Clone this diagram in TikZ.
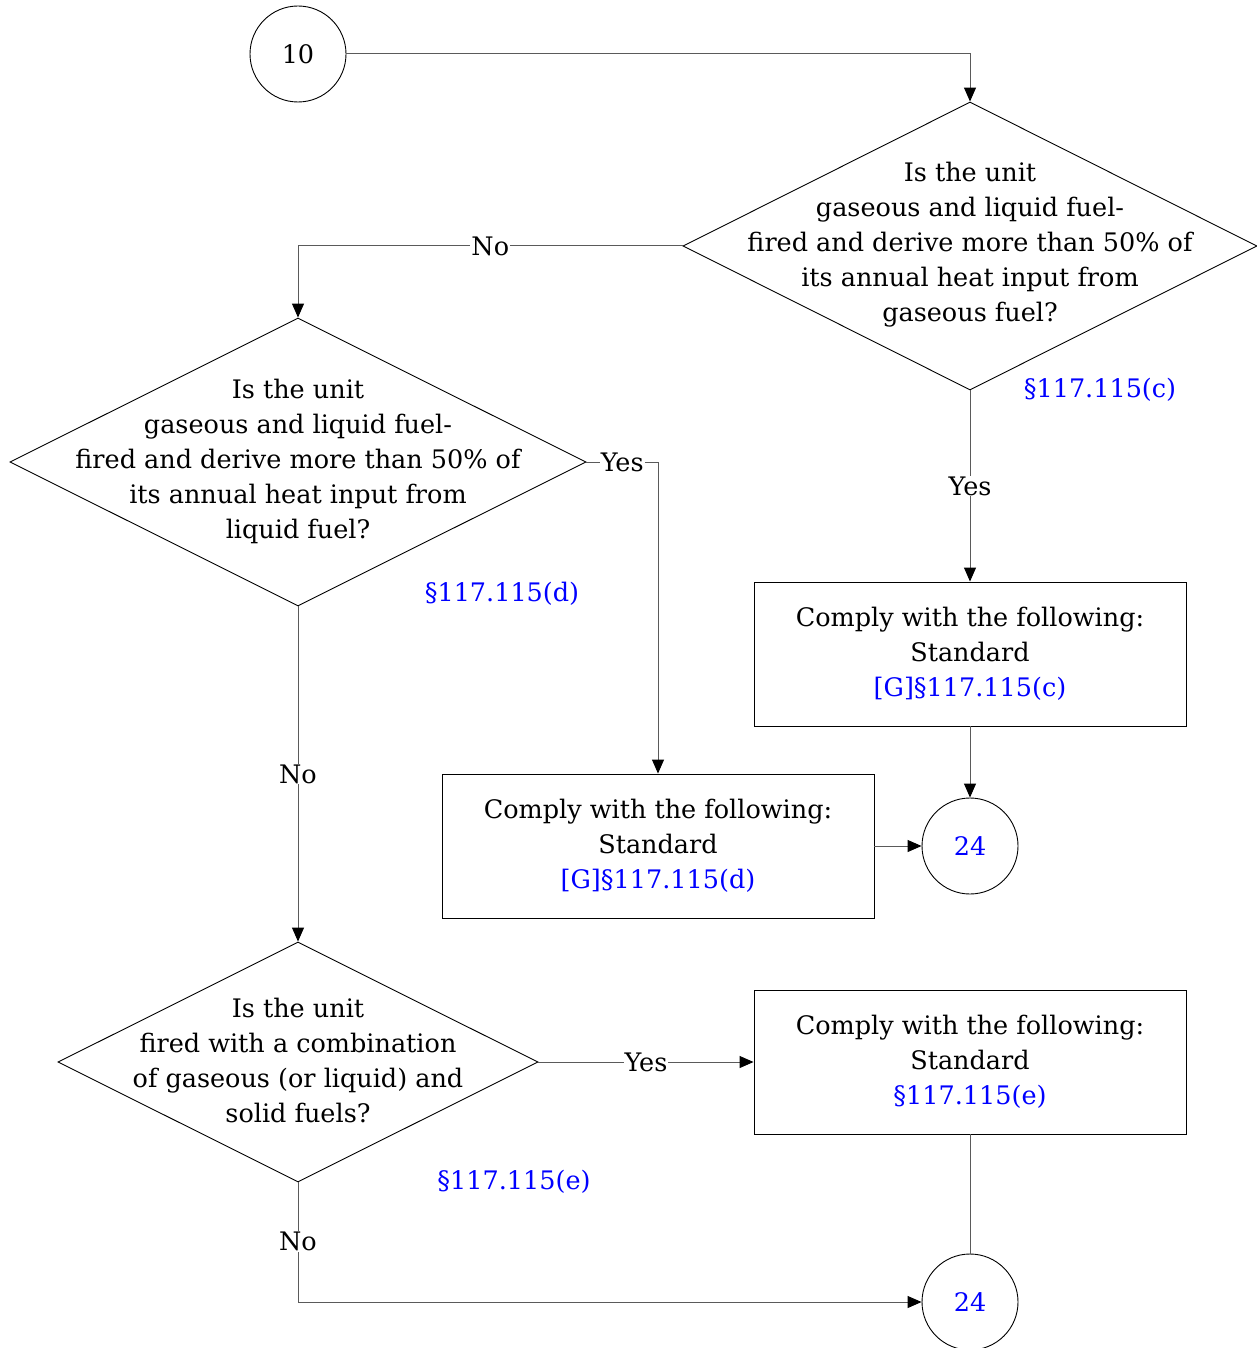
\documentclass[tikz,border=0pt]{standalone}
\usepackage{fontspec}
\setmainfont{DejaVu Serif}
\usetikzlibrary{shapes.geometric,arrows.meta}
\definecolor{lnk}{RGB}{0,0,255}
\definecolor{conn}{RGB}{90,90,90}
\tikzset{
  txt/.style={font=\fontsize{25.5}{35}\selectfont},
  base/.style={draw=black, line width=0.9pt, inner sep=0pt},
  dia/.style={base, diamond, minimum width=#1, minimum height=288pt},
  dtext/.style={txt, align=center, inner sep=0pt},
  cbox/.style={base, txt, rectangle, minimum width=432pt, minimum height=144pt, align=center},
  term/.style={base, txt, circle, minimum size=96pt},
  lab/.style={txt, fill=white, inner sep=1pt},
  ref/.style={txt, text=lnk, inner sep=0pt},
  conn/.style={draw=conn, line width=1pt},
  arr/.style={conn, -{Triangle[length=14pt, width=12pt, color=black, fill=black]}}
}
\begin{document}
\begin{tikzpicture}[x=1pt, y=-1pt]
\useasboundingbox (0,0) rectangle (1256,1348);
\node[term] (c10) at (298,54) {10};
\node[dia=574pt] (d1) at (970,246) {};
\node[dtext] (t1) at (970,245) {Is the unit\\gaseous and liquid fuel-\\fired and derive more than 50\% of\\its annual heat input from\\gaseous fuel?};
\node[ref] (r1) at (1100,390) {§117.115(c)};
\node[dia=576pt] (d2) at (298,462) {};
\node[dtext] (t2) at (298,461) {Is the unit\\gaseous and liquid fuel-\\fired and derive more than 50\% of\\its annual heat input from\\liquid fuel?};
\node[ref] (r2) at (502,594) {§117.115(d)};
\node[cbox] (b1) at (970,654) {Comply with the following:\\Standard\\\textcolor{lnk}{[G]§117.115(c)}};
\node[term, text=lnk] (c24a) at (970,846) {24};
\node[cbox] (b2) at (658,846) {Comply with the following:\\Standard\\\textcolor{lnk}{[G]§117.115(d)}};
\node[base, diamond, minimum width=480pt, minimum height=240pt] (d3) at (298,1062) {};
\node[dtext] (t3) at (298,1060) {Is the unit\\fired with a combination\\of gaseous (or liquid) and\\solid fuels?};
\node[ref] (r3) at (514,1182) {§117.115(e)};
\node[cbox] (b3) at (970,1062) {Comply with the following:\\Standard\\\textcolor{lnk}{§117.115(e)}};
\node[term, text=lnk] (c24b) at (970,1302) {24};
% connectors
\draw[arr] (c10.east) -| (d1.north);
\draw[arr] (d1.west) -| node[lab, pos=0.25] {No} (d2.north);
\draw[arr] (d1.south) -- node[lab] {Yes} (b1.north);
\draw[arr] (b1.south) -- (c24a.north);
\draw[arr] (d2.east) -| node[lab, pos=0.25] {Yes} (b2.north);
\draw[arr] (b2.east) -- (c24a.west);
\draw[arr] (d2.south) -- node[lab, pos=0.5] {No} (d3.north);
\draw[arr] (d3.east) -- node[lab] {Yes} (b3.west);
\draw[conn] (b3.south) -- (c24b.north);
\coordinate (k3) at (298,1302);
\draw[arr] (d3.south) -- node[lab, pos=0.49] {No} (k3) -- (c24b.west);
\end{tikzpicture}
\end{document}
